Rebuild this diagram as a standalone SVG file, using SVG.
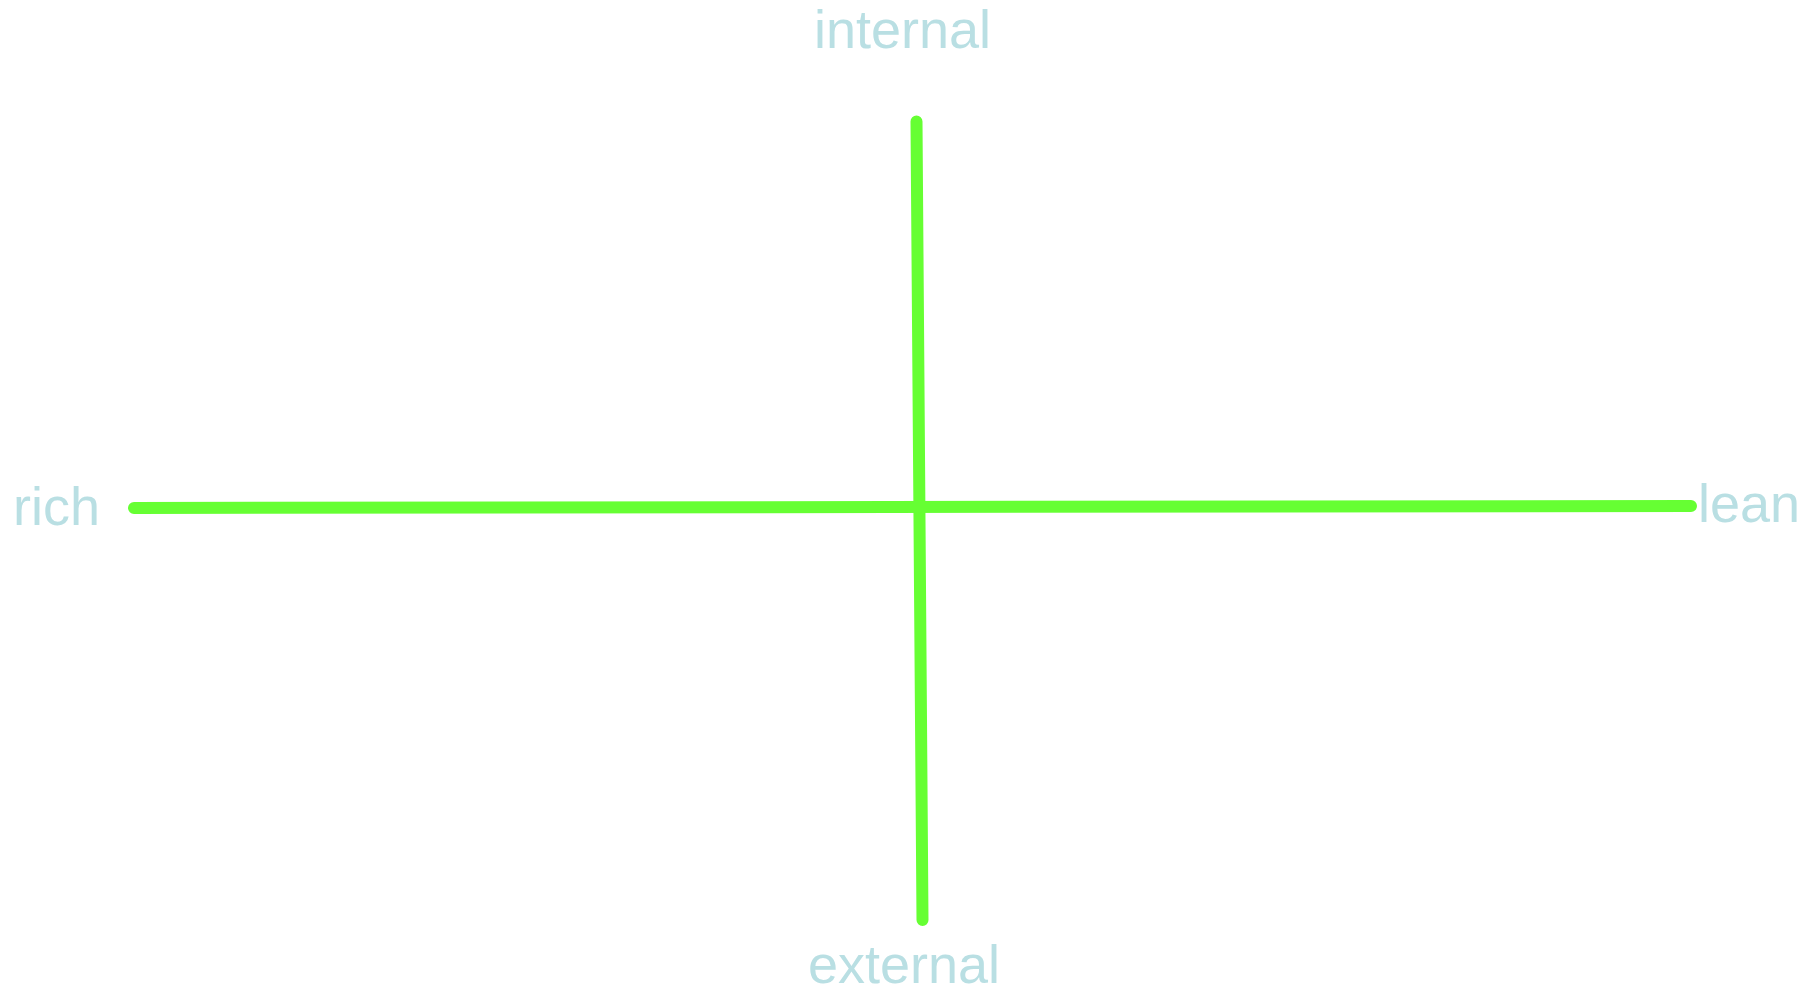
<svg xmlns="http://www.w3.org/2000/svg" width="1818" height="992" viewBox="0 0 1818 992">
<style>
.lbl{font-family:"Liberation Sans",Arial,sans-serif;font-size:54px;fill:#b9dfe3}
.ax{stroke:#66ff33;stroke-width:12;stroke-linecap:round;fill:none}
</style>
<rect width="1818" height="992" fill="#ffffff"/>
<g id="connectors">
<line class="ax" x1="916.5" y1="121.5" x2="922.5" y2="920"/>
<line class="ax" x1="134" y1="508" x2="1691" y2="506"/>
</g>
<g id="internal"><text class="lbl" x="814" y="48">internal</text></g>
<g id="rich"><text class="lbl" x="13" y="525">rich</text></g>
<g id="lean"><text class="lbl" x="1698" y="522">lean</text></g>
<g id="external"><text class="lbl" x="808" y="983">external</text></g>
</svg>
